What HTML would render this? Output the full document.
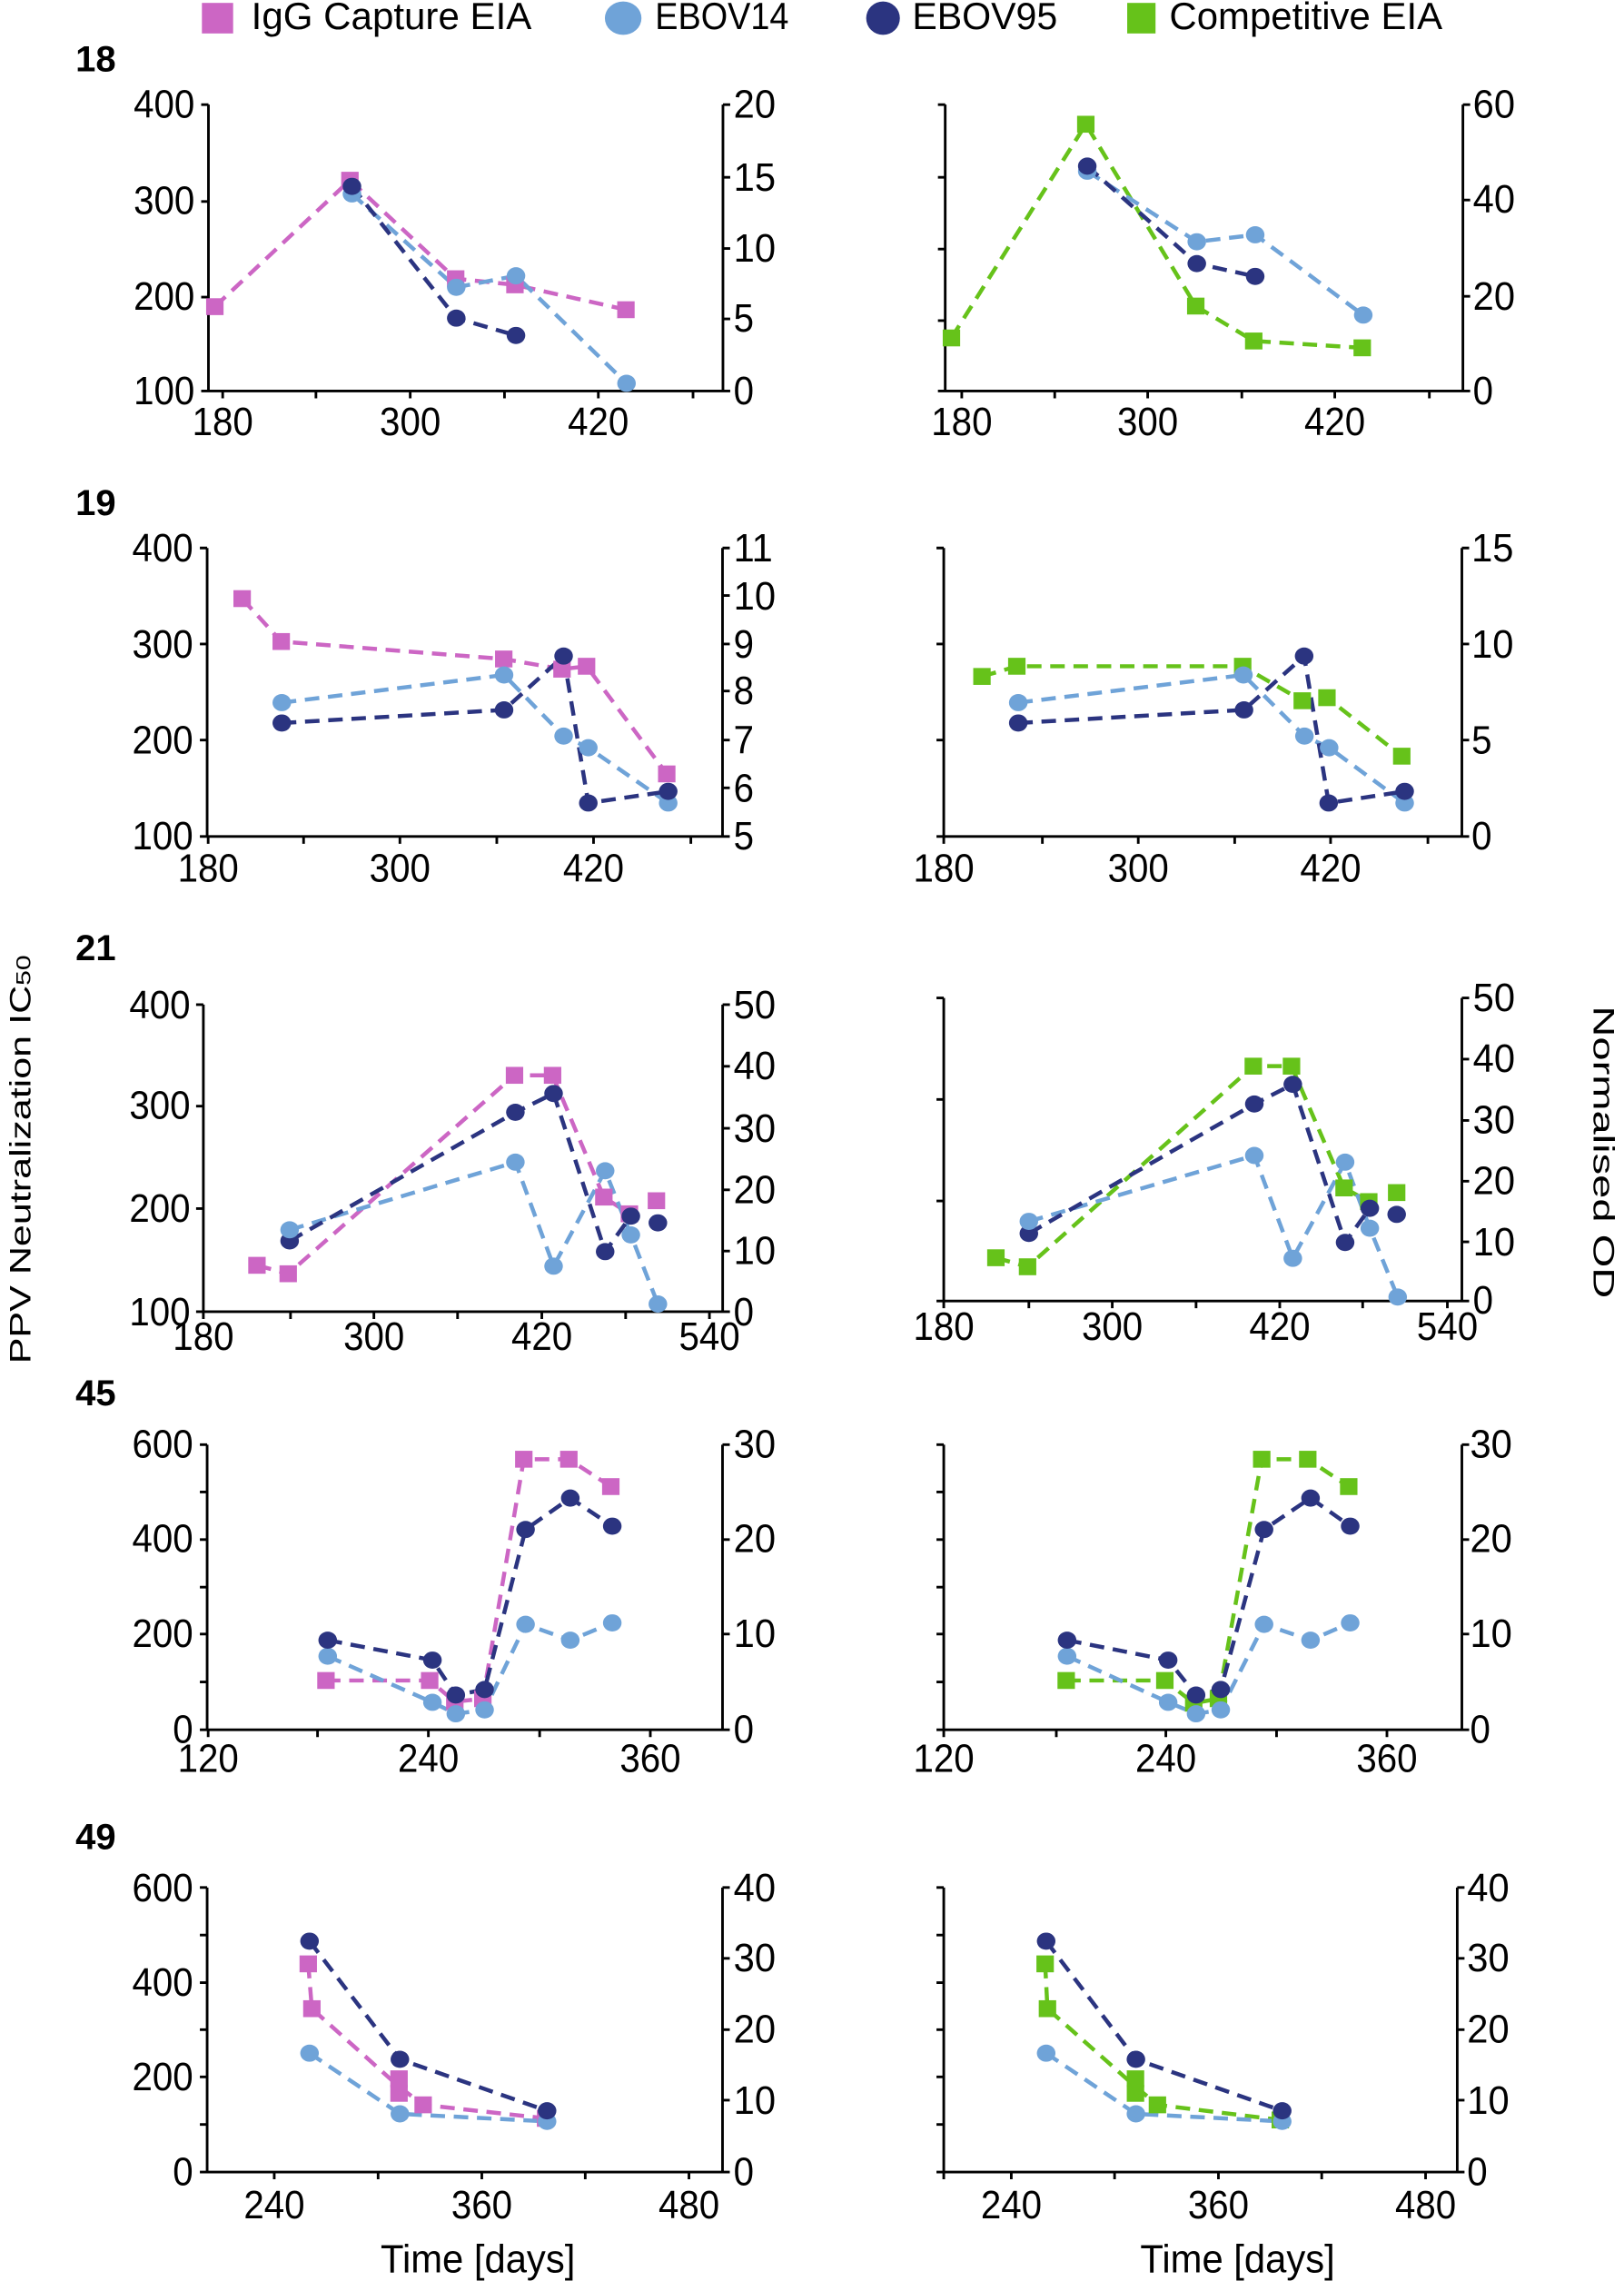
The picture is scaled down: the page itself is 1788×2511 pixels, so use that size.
<!DOCTYPE html>
<html><head><meta charset="utf-8"><style>
html,body{margin:0;padding:0;background:#fff}
svg{display:block}
.ax{stroke:#000;stroke-width:1.8;fill:none}
text{font-family:"Liberation Sans",Arial,sans-serif;fill:#000}
.n{font-size:27px}
.e{text-anchor:end}.m{text-anchor:middle}
.ln{fill:none;stroke-width:2.8;stroke-dasharray:10 6}
.P{stroke:#cc66c4}.PF{fill:#cc66c4}
.L{stroke:#6fa3d8}.LF{fill:#6fa3d8}
.D{stroke:#2b3480}.DF{fill:#2b3480}
.G{stroke:#66c21a}.GF{fill:#66c21a}
</style></head><body>
<svg width="1788" height="2511" viewBox="0 0 1118 1568" preserveAspectRatio="none" xmlns="http://www.w3.org/2000/svg">
<defs>
<rect id="sq" x="-6" y="-5.8" width="12" height="11.6"/>
<ellipse id="ci" cx="0" cy="0" rx="6.4" ry="5.9"/>
</defs>
<!-- Legend -->
<rect x="139" y="2" width="21.5" height="21" class="PF"/>
<text x="173" y="20" font-size="26" textLength="193" lengthAdjust="spacingAndGlyphs">IgG Capture EIA</text>
<ellipse cx="429" cy="12.5" rx="12.6" ry="11.5" class="LF"/>
<text x="451" y="20" font-size="26" textLength="92" lengthAdjust="spacingAndGlyphs">EBOV14</text>
<ellipse cx="607.9" cy="12.5" rx="11.6" ry="11.5" class="DF"/>
<text x="628" y="20" font-size="26" textLength="100" lengthAdjust="spacingAndGlyphs">EBOV95</text>
<rect x="776" y="2" width="19.5" height="21" class="GF"/>
<text x="805" y="20" font-size="26" textLength="188" lengthAdjust="spacingAndGlyphs">Competitive EIA</text>

<!-- axis titles -->
<text transform="translate(21,797) rotate(-90)" font-size="20" text-anchor="middle" textLength="281" lengthAdjust="spacingAndGlyphs">PPV Neutralization IC<tspan font-size="14">50</tspan></text>
<text transform="translate(1097,792) rotate(90)" font-size="20" text-anchor="middle" textLength="201" lengthAdjust="spacingAndGlyphs">Normalised OD</text>
<text x="329" y="1562" font-size="27" text-anchor="middle" textLength="134" lengthAdjust="spacingAndGlyphs">Time [days]</text>
<text x="852" y="1562" font-size="27" text-anchor="middle" textLength="134" lengthAdjust="spacingAndGlyphs">Time [days]</text>

<!-- row labels -->
<g font-size="25" font-weight="bold">
<text x="52" y="49">18</text><text x="52" y="354">19</text><text x="52" y="660">21</text><text x="52" y="966">45</text><text x="52" y="1271">49</text>
</g>

<!-- ===== ROW 1 ===== -->
<path class="ax" d="M143.5,71.9V268.8M138.5,268.8H497.7M497.7,71.9V268.8
M138.5,71.9h5M138.5,138.5h5M138.5,204.2h5
M497.7,71.9h5M497.7,121.9h5M497.7,170.8h5M497.7,219.2h5M497.7,268.8h5
M153.3,268.8v5M217.5,268.8v5M282.4,268.8v5M347.3,268.8v5M411.9,268.8v5M477.1,268.8v5"/>
<g class="n">
<text class="e" x="134" y="81" textLength="42" lengthAdjust="spacingAndGlyphs">400</text>
<text class="e" x="134" y="147" textLength="42" lengthAdjust="spacingAndGlyphs">300</text>
<text class="e" x="134" y="213" textLength="42" lengthAdjust="spacingAndGlyphs">200</text>
<text class="e" x="134" y="278" textLength="42" lengthAdjust="spacingAndGlyphs">100</text>
<text x="505" y="81" textLength="29" lengthAdjust="spacingAndGlyphs">20</text>
<text x="505" y="131" textLength="29" lengthAdjust="spacingAndGlyphs">15</text>
<text x="505" y="180" textLength="29" lengthAdjust="spacingAndGlyphs">10</text>
<text x="505" y="228" textLength="14" lengthAdjust="spacingAndGlyphs">5</text>
<text x="505" y="278" textLength="14" lengthAdjust="spacingAndGlyphs">0</text>
<text class="m" x="153.3" y="299" textLength="42" lengthAdjust="spacingAndGlyphs">180</text>
<text class="m" x="282.4" y="299" textLength="42" lengthAdjust="spacingAndGlyphs">300</text>
<text class="m" x="411.9" y="299" textLength="42" lengthAdjust="spacingAndGlyphs">420</text>
</g>
<polyline class="ln P" points="147.9,210.8 240.9,123.9 313.7,191.6 354.5,195.8 430.9,212.9"/>
<polyline class="ln L" points="242.3,133.3 314.1,197.5 355.2,189.6 431.3,263.5"/>
<polyline class="ln D" points="242.3,128.1 314.1,218.7 355.2,230.6"/>
<g class="PF"><use href="#sq" x="147.9" y="210.8"/><use href="#sq" x="240.9" y="123.9"/><use href="#sq" x="313.7" y="191.6"/><use href="#sq" x="354.5" y="195.8"/><use href="#sq" x="430.9" y="212.9"/></g>
<g class="LF"><use href="#ci" x="242.3" y="133.3"/><use href="#ci" x="314.1" y="197.5"/><use href="#ci" x="355.2" y="189.6"/><use href="#ci" x="431.3" y="263.5"/></g>
<g class="DF"><use href="#ci" x="242.3" y="128.1"/><use href="#ci" x="314.1" y="218.7"/><use href="#ci" x="355.2" y="230.6"/></g>

<path class="ax" d="M650.7,71.9V268.8M645.7,268.8H1007.1M1007.1,71.9V268.8
M645.7,71.9h5M645.7,121.9h5M645.7,171.2h5M645.7,220.4h5
M1007.1,71.9h5M1007.1,137.5h5M1007.1,203.7h5M1007.1,268.8h5
M662.1,268.8v5M726.1,268.8v5M790.1,268.8v5M854.9,268.8v5M918.9,268.8v5M984,268.8v5"/>
<g class="n">
<text x="1014" y="81" textLength="29" lengthAdjust="spacingAndGlyphs">60</text>
<text x="1014" y="146" textLength="29" lengthAdjust="spacingAndGlyphs">40</text>
<text x="1014" y="213" textLength="29" lengthAdjust="spacingAndGlyphs">20</text>
<text x="1014" y="278" textLength="14" lengthAdjust="spacingAndGlyphs">0</text>
<text class="m" x="662.1" y="299" textLength="42" lengthAdjust="spacingAndGlyphs">180</text>
<text class="m" x="790.1" y="299" textLength="42" lengthAdjust="spacingAndGlyphs">300</text>
<text class="m" x="918.9" y="299" textLength="42" lengthAdjust="spacingAndGlyphs">420</text>
</g>
<polyline class="ln G" points="655,232.3 747.5,85.4 823.2,210.4 863.1,234.4 937.8,239.1"/>
<polyline class="ln L" points="748.5,117.7 823.9,166.2 864.1,161.4 938.5,216.6"/>
<polyline class="ln D" points="748.5,114.2 823.9,181.2 864.1,190"/>
<g class="GF"><use href="#sq" x="655" y="232.3"/><use href="#sq" x="747.5" y="85.4"/><use href="#sq" x="823.2" y="210.4"/><use href="#sq" x="863.1" y="234.4"/><use href="#sq" x="937.8" y="239.1"/></g>
<g class="LF"><use href="#ci" x="748.5" y="117.7"/><use href="#ci" x="823.9" y="166.2"/><use href="#ci" x="864.1" y="161.4"/><use href="#ci" x="938.5" y="216.6"/></g>
<g class="DF"><use href="#ci" x="748.5" y="114.2"/><use href="#ci" x="823.9" y="181.2"/><use href="#ci" x="864.1" y="190"/></g>

<!-- ===== ROW 2 ===== -->
<path class="ax" d="M142.6,376.7V575M137.6,575H497.4M497.4,376.7V575
M137.6,376.7h5M137.6,442.7h5M137.6,508.7h5
M497.4,376.7h5M497.4,409.4h5M497.4,442.7h5M497.4,475h5M497.4,508.7h5M497.4,541.6h5M497.4,575h5
M143.3,575v5M209,575v5M275.3,575v5M342,575v5M408.6,575v5M475.6,575v5"/>
<g class="n">
<text class="e" x="133" y="386" textLength="42" lengthAdjust="spacingAndGlyphs">400</text>
<text class="e" x="133" y="452" textLength="42" lengthAdjust="spacingAndGlyphs">300</text>
<text class="e" x="133" y="518" textLength="42" lengthAdjust="spacingAndGlyphs">200</text>
<text class="e" x="133" y="584" textLength="42" lengthAdjust="spacingAndGlyphs">100</text>
<text x="505" y="386" textLength="27" lengthAdjust="spacingAndGlyphs">11</text>
<text x="505" y="419" textLength="29" lengthAdjust="spacingAndGlyphs">10</text>
<text x="505" y="452" textLength="14" lengthAdjust="spacingAndGlyphs">9</text><text x="505" y="484" textLength="14" lengthAdjust="spacingAndGlyphs">8</text><text x="505" y="518" textLength="14" lengthAdjust="spacingAndGlyphs">7</text><text x="505" y="551" textLength="14" lengthAdjust="spacingAndGlyphs">6</text><text x="505" y="584" textLength="14" lengthAdjust="spacingAndGlyphs">5</text>
<text class="m" x="143.3" y="606" textLength="42" lengthAdjust="spacingAndGlyphs">180</text>
<text class="m" x="275.3" y="606" textLength="42" lengthAdjust="spacingAndGlyphs">300</text>
<text class="m" x="408.6" y="606" textLength="42" lengthAdjust="spacingAndGlyphs">420</text>
</g>
<polyline class="ln P" points="166.7,411.5 193.6,441 346.8,453 386.9,460 403.8,458 459,532"/>
<polyline class="ln L" points="194,483 347,464 388,506 405,514 460,552"/>
<polyline class="ln D" points="194,497 347,488 388,451 405,552 460,544"/>
<g class="PF"><use href="#sq" x="166.7" y="411.5"/><use href="#sq" x="193.6" y="441"/><use href="#sq" x="346.8" y="453"/><use href="#sq" x="386.9" y="460"/><use href="#sq" x="403.8" y="458"/><use href="#sq" x="459" y="532"/></g>
<g class="LF"><use href="#ci" x="194" y="483"/><use href="#ci" x="347" y="464"/><use href="#ci" x="388" y="506"/><use href="#ci" x="405" y="514"/><use href="#ci" x="460" y="552"/></g>
<g class="DF"><use href="#ci" x="194" y="497"/><use href="#ci" x="347" y="488"/><use href="#ci" x="388" y="451"/><use href="#ci" x="405" y="552"/><use href="#ci" x="460" y="544"/></g>

<path class="ax" d="M649.7,376.7V575M644.7,575H1006.4M1006.4,376.7V575
M644.7,376.7h5M644.7,442.7h5M644.7,508.7h5
M1006.4,376.7h5M1006.4,442.7h5M1006.4,508.7h5M1006.4,575h5
M649.7,575v5M717.6,575v5M783.6,575v5M850,575v5M916,575v5M983,575v5"/>
<g class="n">
<text x="1013" y="386" textLength="29" lengthAdjust="spacingAndGlyphs">15</text>
<text x="1013" y="452" textLength="29" lengthAdjust="spacingAndGlyphs">10</text>
<text x="1013" y="518" textLength="14" lengthAdjust="spacingAndGlyphs">5</text><text x="1013" y="584" textLength="14" lengthAdjust="spacingAndGlyphs">0</text>
<text class="m" x="649.7" y="606" textLength="42" lengthAdjust="spacingAndGlyphs">180</text>
<text class="m" x="783.6" y="606" textLength="42" lengthAdjust="spacingAndGlyphs">300</text>
<text class="m" x="916" y="606" textLength="42" lengthAdjust="spacingAndGlyphs">420</text>
</g>
<polyline class="ln G" points="676,465 700,458 855.5,458 896.5,481.7 913.5,479.6 965,519.8"/>
<polyline class="ln L" points="701,483 856,464 898,506 915,514 967,552"/>
<polyline class="ln D" points="701,497 856.4,488 897.8,451 914.7,552 967,544"/>
<g class="GF"><use href="#sq" x="676" y="465"/><use href="#sq" x="700" y="458"/><use href="#sq" x="855.5" y="458"/><use href="#sq" x="896.5" y="481.7"/><use href="#sq" x="913.5" y="479.6"/><use href="#sq" x="965" y="519.8"/></g>
<g class="LF"><use href="#ci" x="701" y="483"/><use href="#ci" x="856" y="464"/><use href="#ci" x="898" y="506"/><use href="#ci" x="915" y="514"/><use href="#ci" x="967" y="552"/></g>
<g class="DF"><use href="#ci" x="701" y="497"/><use href="#ci" x="856.4" y="488"/><use href="#ci" x="897.8" y="451"/><use href="#ci" x="914.7" y="552"/><use href="#ci" x="967" y="544"/></g>

<!-- ===== ROW 3 ===== -->
<path class="ax" d="M140,690.6V901.7M135,901.7H497.5M497.5,690.6V901.7
M135,690.6h5M135,760.4h5M135,830.8h5
M497.5,690.6h5M497.5,733h5M497.5,775.6h5M497.5,817.9h5M497.5,860h5M497.5,901.7h5
M140,901.7v5M200,901.7v5M257.4,901.7v5M315,901.7v5M373,901.7v5M430.7,901.7v5M488.4,901.7v5"/>
<g class="n">
<text class="e" x="131" y="700" textLength="42" lengthAdjust="spacingAndGlyphs">400</text>
<text class="e" x="131" y="769" textLength="42" lengthAdjust="spacingAndGlyphs">300</text>
<text class="e" x="131" y="840" textLength="42" lengthAdjust="spacingAndGlyphs">200</text>
<text class="e" x="131" y="911" textLength="42" lengthAdjust="spacingAndGlyphs">100</text>
<text x="505" y="700" textLength="29" lengthAdjust="spacingAndGlyphs">50</text>
<text x="505" y="742" textLength="29" lengthAdjust="spacingAndGlyphs">40</text>
<text x="505" y="785" textLength="29" lengthAdjust="spacingAndGlyphs">30</text>
<text x="505" y="827" textLength="29" lengthAdjust="spacingAndGlyphs">20</text>
<text x="505" y="869" textLength="29" lengthAdjust="spacingAndGlyphs">10</text>
<text x="505" y="911" textLength="14" lengthAdjust="spacingAndGlyphs">0</text>
<text class="m" x="140" y="928" textLength="42" lengthAdjust="spacingAndGlyphs">180</text>
<text class="m" x="257.4" y="928" textLength="42" lengthAdjust="spacingAndGlyphs">300</text>
<text class="m" x="373" y="928" textLength="42" lengthAdjust="spacingAndGlyphs">420</text>
<text class="m" x="488.4" y="928" textLength="42" lengthAdjust="spacingAndGlyphs">540</text>
</g>
<polyline class="ln P" points="176.9,869.8 198.4,875.6 354.2,739.2 380.4,739.2 415.7,822.9 433.3,834.4"/>
<polyline class="ln L" points="199.4,845.4 354.8,798.9 381.1,870.4 416.6,804.8 434.3,848.9 452.9,896.4"/>
<polyline class="ln D" points="199.4,853 354.8,764.6 381.1,751.7 416.6,860.4 434.3,836"/>
<g class="PF"><use href="#sq" x="176.9" y="869.8"/><use href="#sq" x="198.4" y="875.6"/><use href="#sq" x="354.2" y="739.2"/><use href="#sq" x="380.4" y="739.2"/><use href="#sq" x="415.7" y="822.9"/><use href="#sq" x="433.3" y="834.4"/><use href="#sq" x="451.9" y="825.4"/></g>
<g class="DF"><use href="#ci" x="199.4" y="853"/><use href="#ci" x="354.8" y="764.6"/><use href="#ci" x="381.1" y="751.7"/><use href="#ci" x="416.6" y="860.4"/><use href="#ci" x="434.3" y="836"/><use href="#ci" x="452.9" y="840.6"/></g>
<g class="LF"><use href="#ci" x="199.4" y="845.4"/><use href="#ci" x="354.8" y="798.9"/><use href="#ci" x="381.1" y="870.4"/><use href="#ci" x="416.6" y="804.8"/><use href="#ci" x="434.3" y="848.9"/><use href="#ci" x="452.9" y="896.4"/></g>

<path class="ax" d="M649.7,686V894.3M644.7,894.3H1006.4M1006.4,686V894.3
M644.7,686h5M644.7,755.8h5M644.7,825.6h5
M1006.4,686h5M1006.4,728.1h5M1006.4,770.2h5M1006.4,812h5M1006.4,853.7h5M1006.4,894.3h5
M649.7,894.3v5M708.3,894.3v5M765.7,894.3v5M823.4,894.3v5M881,894.3v5M938.1,894.3v5M996.4,894.3v5"/>
<g class="n">
<text x="1014" y="695" textLength="29" lengthAdjust="spacingAndGlyphs">50</text>
<text x="1014" y="737" textLength="29" lengthAdjust="spacingAndGlyphs">40</text>
<text x="1014" y="779" textLength="29" lengthAdjust="spacingAndGlyphs">30</text>
<text x="1014" y="821" textLength="29" lengthAdjust="spacingAndGlyphs">20</text>
<text x="1014" y="863" textLength="29" lengthAdjust="spacingAndGlyphs">10</text>
<text x="1014" y="903" textLength="14" lengthAdjust="spacingAndGlyphs">0</text>
<text class="m" x="649.7" y="921" textLength="42" lengthAdjust="spacingAndGlyphs">180</text>
<text class="m" x="765.7" y="921" textLength="42" lengthAdjust="spacingAndGlyphs">300</text>
<text class="m" x="881" y="921" textLength="42" lengthAdjust="spacingAndGlyphs">420</text>
<text class="m" x="996.4" y="921" textLength="42" lengthAdjust="spacingAndGlyphs">540</text>
</g>
<polyline class="ln G" points="685.6,864.6 707.4,870.8 862.8,732.9 889.1,732.9 925.3,816.6 942.3,826"/>
<polyline class="ln L" points="708.3,839.6 863.5,794.3 890,865 926,798.9 943,844.3 962.2,891.6"/>
<polyline class="ln D" points="708.3,847.9 863.5,758.9 890,745.4 926,854.1 943,830.6"/>
<g class="GF"><use href="#sq" x="685.6" y="864.6"/><use href="#sq" x="707.4" y="870.8"/><use href="#sq" x="862.8" y="732.9"/><use href="#sq" x="889.1" y="732.9"/><use href="#sq" x="925.3" y="816.6"/><use href="#sq" x="942.3" y="826"/><use href="#sq" x="961.5" y="819.8"/></g>
<g class="DF"><use href="#ci" x="708.3" y="847.9"/><use href="#ci" x="863.5" y="758.9"/><use href="#ci" x="890" y="745.4"/><use href="#ci" x="926" y="854.1"/><use href="#ci" x="943" y="830.6"/><use href="#ci" x="961.5" y="834.8"/></g>
<g class="LF"><use href="#ci" x="708.3" y="839.6"/><use href="#ci" x="863.5" y="794.3"/><use href="#ci" x="890" y="865"/><use href="#ci" x="926" y="798.9"/><use href="#ci" x="943" y="844.3"/><use href="#ci" x="962.2" y="891.6"/></g>

<!-- ===== ROW 4 ===== -->
<path class="ax" d="M142.6,993.1V1189.1M137.6,1189.1H497.4M497.4,993.1V1189.1
M137.6,993.1h5M137.6,1025.6h5M137.6,1058.3h5M137.6,1091h5M137.6,1123.3h5M137.6,1156.2h5
M497.4,993.1h5M497.4,1058.3h5M497.4,1123.3h5M497.4,1189.1h5
M143.3,1189.1v5M218.6,1189.1v5M294.9,1189.1v5M371.5,1189.1v5M447.7,1189.1v5"/>
<g class="n">
<text class="e" x="133" y="1002" textLength="42" lengthAdjust="spacingAndGlyphs">600</text>
<text class="e" x="133" y="1067" textLength="42" lengthAdjust="spacingAndGlyphs">400</text>
<text class="e" x="133" y="1132" textLength="42" lengthAdjust="spacingAndGlyphs">200</text>
<text class="e" x="133" y="1198" textLength="14" lengthAdjust="spacingAndGlyphs">0</text>
<text x="505" y="1002" textLength="29" lengthAdjust="spacingAndGlyphs">30</text>
<text x="505" y="1067" textLength="29" lengthAdjust="spacingAndGlyphs">20</text>
<text x="505" y="1132" textLength="29" lengthAdjust="spacingAndGlyphs">10</text>
<text x="505" y="1198" textLength="14" lengthAdjust="spacingAndGlyphs">0</text>
<text class="m" x="143.3" y="1218" textLength="42" lengthAdjust="spacingAndGlyphs">120</text>
<text class="m" x="294.9" y="1218" textLength="42" lengthAdjust="spacingAndGlyphs">240</text>
<text class="m" x="447.7" y="1218" textLength="42" lengthAdjust="spacingAndGlyphs">360</text>
</g>
<polyline class="ln P" points="224.4,1155.2 295.8,1155.2 313.1,1169.8 332.4,1167.7 360.6,1003.1 391.6,1003.1 420.5,1021.9"/>
<polyline class="ln L" points="225.6,1138.5 297.7,1170.2 313.8,1178.1 333.6,1175.4 361.8,1116.6 392.6,1127.5 421.5,1115.6"/>
<polyline class="ln D" points="225.6,1127.5 297.7,1141.2 313.8,1165.2 333.6,1161.4 361.8,1051.4 392.6,1029.8 421.5,1049.1"/>
<g class="PF"><use href="#sq" x="224.4" y="1155.2"/><use href="#sq" x="295.8" y="1155.2"/><use href="#sq" x="313.1" y="1169.8"/><use href="#sq" x="332.4" y="1167.7"/><use href="#sq" x="360.6" y="1003.1"/><use href="#sq" x="391.6" y="1003.1"/><use href="#sq" x="420.5" y="1021.9"/></g>
<g class="LF"><use href="#ci" x="225.6" y="1138.5"/><use href="#ci" x="297.7" y="1170.2"/><use href="#ci" x="313.8" y="1178.1"/><use href="#ci" x="333.6" y="1175.4"/><use href="#ci" x="361.8" y="1116.6"/><use href="#ci" x="392.6" y="1127.5"/><use href="#ci" x="421.5" y="1115.6"/></g>
<g class="DF"><use href="#ci" x="225.6" y="1127.5"/><use href="#ci" x="297.7" y="1141.2"/><use href="#ci" x="313.8" y="1165.2"/><use href="#ci" x="333.6" y="1161.4"/><use href="#ci" x="361.8" y="1051.4"/><use href="#ci" x="392.6" y="1029.8"/><use href="#ci" x="421.5" y="1049.1"/></g>

<path class="ax" d="M649.7,993.1V1189.1M644.7,1189.1H1006.4M1006.4,993.1V1189.1
M644.7,993.1h5M644.7,1025.6h5M644.7,1058.3h5M644.7,1091h5M644.7,1123.3h5M644.7,1156.2h5
M1006.4,993.1h5M1006.4,1058.3h5M1006.4,1123.3h5M1006.4,1189.1h5
M649.7,1189.1v5M727.2,1189.1v5M802.6,1189.1v5M878.8,1189.1v5M954.8,1189.1v5"/>
<g class="n">
<text x="1012" y="1002" textLength="29" lengthAdjust="spacingAndGlyphs">30</text>
<text x="1012" y="1067" textLength="29" lengthAdjust="spacingAndGlyphs">20</text>
<text x="1012" y="1132" textLength="29" lengthAdjust="spacingAndGlyphs">10</text>
<text x="1012" y="1198" textLength="14" lengthAdjust="spacingAndGlyphs">0</text>
<text class="m" x="649.7" y="1218" textLength="42" lengthAdjust="spacingAndGlyphs">120</text>
<text class="m" x="802.6" y="1218" textLength="42" lengthAdjust="spacingAndGlyphs">240</text>
<text class="m" x="954.8" y="1218" textLength="42" lengthAdjust="spacingAndGlyphs">360</text>
</g>
<polyline class="ln G" points="734,1155.2 801.9,1155.2 821.8,1170.8 838.8,1167.7 868.6,1003.1 900.3,1003.1 928.5,1021.9"/>
<polyline class="ln L" points="734.6,1138.5 804.2,1170.2 823.4,1178.1 840.4,1175.4 870.2,1116.6 902.2,1127.5 929.5,1115.6"/>
<polyline class="ln D" points="734.6,1127.5 804.2,1141.2 823.4,1165.2 840.4,1161.4 870.2,1051.4 902.2,1029.8 929.5,1049.1"/>
<g class="GF"><use href="#sq" x="734" y="1155.2"/><use href="#sq" x="801.9" y="1155.2"/><use href="#sq" x="821.8" y="1170.8"/><use href="#sq" x="838.8" y="1167.7"/><use href="#sq" x="868.6" y="1003.1"/><use href="#sq" x="900.3" y="1003.1"/><use href="#sq" x="928.5" y="1021.9"/></g>
<g class="LF"><use href="#ci" x="734.6" y="1138.5"/><use href="#ci" x="804.2" y="1170.2"/><use href="#ci" x="823.4" y="1178.1"/><use href="#ci" x="840.4" y="1175.4"/><use href="#ci" x="870.2" y="1116.6"/><use href="#ci" x="902.2" y="1127.5"/><use href="#ci" x="929.5" y="1115.6"/></g>
<g class="DF"><use href="#ci" x="734.6" y="1127.5"/><use href="#ci" x="804.2" y="1141.2"/><use href="#ci" x="823.4" y="1165.2"/><use href="#ci" x="840.4" y="1161.4"/><use href="#ci" x="870.2" y="1051.4"/><use href="#ci" x="902.2" y="1029.8"/><use href="#ci" x="929.5" y="1049.1"/></g>

<!-- ===== ROW 5 ===== -->
<path class="ax" d="M142.6,1297.5V1493.1M137.6,1493.1H497.4M497.4,1297.5V1493.1
M137.6,1297.5h5M137.6,1330.2h5M137.6,1362.9h5M137.6,1395.2h5M137.6,1427.7h5M137.6,1460.4h5
M497.4,1297.5h5M497.4,1346.2h5M497.4,1395.2h5M497.4,1443.7h5M497.4,1493.1h5
M188.8,1493.1v5M260.3,1493.1v5M331.7,1493.1v5M402.9,1493.1v5M474.3,1493.1v5"/>
<g class="n">
<text class="e" x="133" y="1307" textLength="42" lengthAdjust="spacingAndGlyphs">600</text>
<text class="e" x="133" y="1372" textLength="42" lengthAdjust="spacingAndGlyphs">400</text>
<text class="e" x="133" y="1437" textLength="42" lengthAdjust="spacingAndGlyphs">200</text>
<text class="e" x="133" y="1502" textLength="14" lengthAdjust="spacingAndGlyphs">0</text>
<text x="505" y="1307" textLength="29" lengthAdjust="spacingAndGlyphs">40</text>
<text x="505" y="1355" textLength="29" lengthAdjust="spacingAndGlyphs">30</text>
<text x="505" y="1404" textLength="29" lengthAdjust="spacingAndGlyphs">20</text>
<text x="505" y="1453" textLength="29" lengthAdjust="spacingAndGlyphs">10</text>
<text x="505" y="1502" textLength="14" lengthAdjust="spacingAndGlyphs">0</text>
<text class="m" x="188.8" y="1525" textLength="42" lengthAdjust="spacingAndGlyphs">240</text>
<text class="m" x="331.7" y="1525" textLength="42" lengthAdjust="spacingAndGlyphs">360</text>
<text class="m" x="474.3" y="1525" textLength="42" lengthAdjust="spacingAndGlyphs">480</text>
</g>
<polyline class="ln P" points="212.2,1350 214.7,1380.8 274.7,1434.4 291.3,1446.9 375.6,1456.2"/>
<polyline class="ln L" points="213.1,1411.4 275.3,1453.1 376.6,1458.3"/>
<polyline class="ln D" points="213.1,1334.4 275.3,1415.6 376.6,1451"/>
<g class="PF"><use href="#sq" x="212.2" y="1350"/><use href="#sq" x="214.7" y="1380.8"/><use href="#sq" x="274.7" y="1429"/><use href="#sq" x="274.7" y="1439"/><use href="#sq" x="291.3" y="1446.9"/><use href="#sq" x="375.6" y="1456.2"/></g>
<g class="LF"><use href="#ci" x="213.1" y="1411.4"/><use href="#ci" x="275.3" y="1453.1"/><use href="#ci" x="376.6" y="1458.3"/></g>
<g class="DF"><use href="#ci" x="213.1" y="1334.4"/><use href="#ci" x="275.3" y="1415.6"/><use href="#ci" x="376.6" y="1451"/></g>

<path class="ax" d="M649.7,1297.5V1493.1M644.7,1493.1H1003.2M1003.2,1297.5V1493.1
M644.7,1297.5h5M644.7,1330.2h5M644.7,1362.9h5M644.7,1395.2h5M644.7,1427.7h5M644.7,1460.4h5
M1003.2,1297.5h5M1003.2,1346.2h5M1003.2,1395.2h5M1003.2,1443.7h5M1003.2,1493.1h5
M649.7,1493.1v5M696.2,1493.1v5M767.3,1493.1v5M838.8,1493.1v5M909.9,1493.1v5M981.4,1493.1v5"/>
<g class="n">
<text x="1010" y="1307" textLength="29" lengthAdjust="spacingAndGlyphs">40</text>
<text x="1010" y="1355" textLength="29" lengthAdjust="spacingAndGlyphs">30</text>
<text x="1010" y="1404" textLength="29" lengthAdjust="spacingAndGlyphs">20</text>
<text x="1010" y="1453" textLength="29" lengthAdjust="spacingAndGlyphs">10</text>
<text x="1010" y="1502" textLength="14" lengthAdjust="spacingAndGlyphs">0</text>
<text class="m" x="696.2" y="1525" textLength="42" lengthAdjust="spacingAndGlyphs">240</text>
<text class="m" x="838.8" y="1525" textLength="42" lengthAdjust="spacingAndGlyphs">360</text>
<text class="m" x="981.4" y="1525" textLength="42" lengthAdjust="spacingAndGlyphs">480</text>
</g>
<polyline class="ln G" points="719.5,1350 721.1,1380.8 781.7,1434.4 796.8,1446.9 881.4,1457.3"/>
<polyline class="ln L" points="720.2,1411.4 782,1453.1 882.7,1458.3"/>
<polyline class="ln D" points="720.2,1334.4 782,1415.6 882.7,1451"/>
<g class="GF"><use href="#sq" x="719.5" y="1350"/><use href="#sq" x="721.1" y="1380.8"/><use href="#sq" x="781.7" y="1429"/><use href="#sq" x="781.7" y="1439"/><use href="#sq" x="796.8" y="1446.9"/><use href="#sq" x="881.4" y="1457.3"/></g>
<g class="LF"><use href="#ci" x="720.2" y="1411.4"/><use href="#ci" x="782" y="1453.1"/><use href="#ci" x="882.7" y="1458.3"/></g>
<g class="DF"><use href="#ci" x="720.2" y="1334.4"/><use href="#ci" x="782" y="1415.6"/><use href="#ci" x="882.7" y="1451"/></g>
</svg>
</body></html>
